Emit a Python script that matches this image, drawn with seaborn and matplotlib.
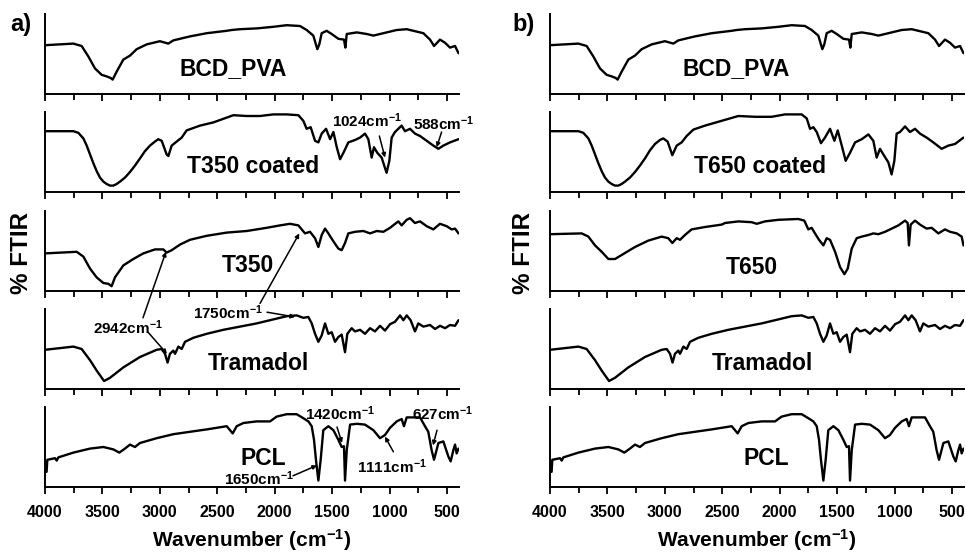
import numpy as np
import pandas as pd
import seaborn as sns
import matplotlib.pyplot as plt
from matplotlib.ticker import MultipleLocator

# ---- spectra (wavenumber in cm-1, transmittance in panel units 0-100)
bcd_wn = [4000, 3753, 3681, 3623, 3565, 3507, 3463, 3428, 3411, 3376, 3318, 3260, 3202, 3115, 3000, 2926, 2883,
          2738, 2592, 2418, 2374, 2302, 2157, 2012, 1896, 1780, 1722, 1664, 1629, 1612, 1591, 1548, 1504, 1446,
          1397, 1385, 1373, 1286, 1199, 1141, 1083, 996, 938, 851, 793, 706, 648, 613, 561, 517, 474, 430, 400]
bcd_t = [61, 63, 60, 47, 32, 24, 22, 20, 18, 28, 43, 48, 56, 62, 66, 63, 67, 72, 76, 79, 80, 81, 82, 84, 86, 85,
         80, 73, 56, 62, 76, 79, 75, 69, 68, 58, 75, 77, 75, 73, 75, 78, 80, 81, 79, 76, 68, 60, 68, 64, 58, 60, 51]

t350c_wn = [4000, 3753, 3710, 3666, 3637, 3608, 3579, 3550, 3521, 3492, 3463, 3434, 3405, 3376, 3347, 3304, 3260,
            3217, 3173, 3130, 3086, 3043, 3014, 2984, 2941, 2926, 2897,
            2854, 2810, 2767, 2650, 2534, 2418, 2360, 2244, 2128, 2012, 1896, 1794, 1751, 1722, 1687, 1649, 1620,
            1591, 1553, 1518, 1489, 1460, 1431, 1402, 1359, 1301, 1257, 1214, 1185, 1156, 1136, 1107, 1069, 1040,
            1026, 1002, 982, 953, 924, 895, 866, 822, 779, 735, 677, 619, 575, 532, 474, 400]
t350c_t = [76, 76, 74, 67, 58, 47, 36, 26, 18, 13, 10, 8, 8, 10, 13, 18, 25,
           33, 42, 51, 58, 63, 66, 64, 47, 45, 58, 63, 68, 77, 83, 87, 93, 96, 95, 95, 97,
           97, 96, 89, 79, 81, 64, 62, 73, 79, 66, 75, 56, 41, 49, 62, 65, 68, 73, 66, 43, 56, 49, 43, 30, 24, 39,
           68, 75, 79, 83, 76, 79, 73, 70, 64, 58, 54, 58, 62, 66]

t350_wn = [4000, 3724, 3666, 3608, 3550, 3492, 3449, 3420, 3391, 3318, 3231, 3144, 3042, 2970, 2941, 2897, 2825,
           2738, 2592, 2418, 2244, 2070, 1954, 1867, 1794, 1736, 1693, 1649, 1620, 1591, 1562, 1533, 1489, 1446,
           1417, 1388, 1359, 1301, 1228, 1170, 1112, 1054, 996, 924, 895, 851, 822, 779, 735, 677, 619, 561, 503,
           459, 430, 400]
t350_t = [47, 49, 43, 28, 17, 10, 9, 6, 17, 32, 40, 47, 52, 52, 48, 51, 58, 64, 69, 73, 75, 79, 82, 84, 82, 72, 74,
          66, 55, 70, 78, 72, 62, 53, 51, 60, 72, 74, 75, 72, 75, 74, 79, 87, 82, 89, 91, 85, 87, 81, 77, 84, 81,
          77, 78, 72]

tram_wn = [4000, 3753, 3681, 3608, 3550, 3486, 3434, 3318, 3173, 3028, 2984, 2955, 2933, 2912, 2883, 2868, 2839,
           2810, 2781, 2709, 2592, 2447, 2302, 2157, 2012, 1896, 1809, 1751, 1707, 1678, 1649, 1620, 1591, 1562,
           1533, 1504, 1475, 1446, 1417, 1388, 1368, 1330, 1301, 1257, 1214, 1170, 1127, 1083, 1040, 996, 953, 909,
           880, 851, 817, 779, 750, 706, 648, 604, 561, 517, 474, 430, 400]
tram_t = [49, 53, 50, 36, 23, 10, 14, 27, 40, 49, 50, 44, 33, 44, 48, 44, 53, 50, 59, 64, 69, 74, 78, 82, 87, 91,
          92, 89, 90, 82, 69, 59, 67, 82, 69, 71, 59, 65, 68, 46, 69, 76, 72, 74, 69, 76, 72, 79, 73, 81, 84, 92,
          86, 92, 86, 72, 82, 78, 80, 75, 79, 76, 80, 79, 86]

pcl_wn = [4000, 3986, 3980, 3913, 3898, 3884, 3753, 3608, 3492, 3405, 3353, 3304, 3260, 3217, 3173, 3028, 2883,
          2738, 2592, 2418, 2389, 2366, 2331, 2273, 2157, 2041, 1983, 1896, 1809, 1751, 1707, 1678, 1658, 1641,
          1620, 1600, 1577, 1533, 1489, 1446, 1417, 1397, 1388, 1373, 1344, 1286, 1214, 1141, 1083, 1040, 996, 938,
          895, 875, 851, 793, 735, 692, 663, 634, 613, 575, 532, 488, 468, 445, 430, 416, 400]
pcl_t = [19, 19, 34, 36, 33, 37, 43, 48, 50, 47, 43, 48, 53, 50, 55, 61, 66, 69, 72, 76, 71, 67, 76, 80, 82, 82, 88,
         91, 91, 86, 82, 76, 59, 34, 8, 34, 71, 76, 71, 59, 50, 51, 8, 46, 78, 79, 78, 71, 61, 65, 74, 82, 85, 76,
         87, 87, 87, 76, 69, 46, 34, 55, 57, 38, 32, 46, 53, 42, 48]

t650c_wn = [4000, 3753, 3710, 3666, 3637, 3608, 3579, 3550, 3521, 3492, 3463, 3434, 3405, 3376, 3347, 3304, 3260,
            3217, 3173, 3130, 3086, 3043, 3014, 2976, 2935, 2897, 2854,
            2810, 2752, 2650, 2505, 2360, 2215, 2070, 1954, 1809, 1765, 1736, 1707, 1678, 1641, 1606, 1562, 1524,
            1495, 1460, 1426, 1388, 1344, 1286, 1228, 1185, 1156, 1127, 1098, 1054, 1026, 1002, 982, 953, 909, 866,
            822, 779, 721, 663, 590, 532, 474, 400]
t650c_t = [76, 76, 74, 67, 58, 47, 36, 26, 18, 13, 10, 8, 8, 10, 13, 18, 25,
           33, 42, 52, 60, 65, 67, 63, 46, 58, 62, 70, 78, 83, 89, 95, 94, 94, 97, 97, 92,
           79, 81, 75, 61, 68, 79, 64, 77, 58, 39, 49, 62, 66, 72, 64, 43, 54, 47, 37, 22, 39, 73, 75, 82, 75, 79,
           73, 68, 62, 54, 58, 60, 68]

t650_wn = [4000, 3724, 3666, 3608, 3550, 3492, 3434, 3376, 3260, 3144, 3028, 2970, 2935, 2897, 2868, 2825, 2767,
           2650, 2505, 2476, 2360, 2244, 2200, 2128, 2012, 1838, 1786, 1751, 1722, 1693, 1658, 1620, 1591, 1562,
           1518, 1475, 1437, 1408, 1373, 1330, 1286, 1228, 1185, 1141, 1083, 1025, 967, 909, 886, 875, 860, 822,
           779, 721, 677, 619, 561, 517, 459, 416, 400]
t650_t = [71, 72, 68, 57, 49, 40, 40, 45, 55, 63, 68, 66, 60, 66, 64, 70, 77, 80, 83, 85, 87, 86, 84, 87, 89, 90, 88,
          77, 79, 72, 64, 57, 66, 64, 49, 30, 21, 28, 53, 66, 68, 70, 72, 71, 74, 78, 82, 88, 85, 57, 83, 88, 83,
          78, 79, 72, 77, 74, 72, 68, 57]

names_a = ['BCD_PVA', 'T350 coated', 'T350', 'Tramadol', 'PCL']
names_b = ['BCD_PVA', 'T650 coated', 'T650', 'Tramadol', 'PCL']

sns.set_style('ticks')
plt.rcParams['font.family'] = ['Liberation Sans', 'DejaVu Sans']
plt.rcParams['font.weight'] = 'bold'
plt.rcParams['text.color'] = 'black'
plt.rcParams['axes.edgecolor'] = 'black'
plt.rcParams['xtick.color'] = 'black'
plt.rcParams['mathtext.fontset'] = 'custom'
plt.rcParams['mathtext.rm'] = 'Liberation Sans:bold'
plt.rcParams['mathtext.it'] = 'Liberation Sans:bold'
plt.rcParams['mathtext.bf'] = 'Liberation Sans:bold'
plt.rcParams['mathtext.default'] = 'rm'

spec_a = [(bcd_wn, bcd_t), (t350c_wn, t350c_t), (t350_wn, t350_t), (tram_wn, tram_t), (pcl_wn, pcl_t)]
spec_b = [(bcd_wn, bcd_t), (t650c_wn, t650c_t), (t650_wn, t650_t), (tram_wn, tram_t), (pcl_wn, pcl_t)]

# label position (wavenumber, y) for each sample name
lab_a = [(2363, 32), (2189, 32), (2233, 32), (2146, 32), (2102, 36)]
lab_b = [(2375, 32), (2175, 32), (2245, 30), (2150, 32), (2115, 36)]

W, H = 966, 555
fig = plt.figure(figsize=(W / 100, H / 100), dpi=100)
tops = [14, 112, 211, 309, 407]
ph = 80
lefts = [45, 550]
pw = 413.5

axes = []
for c, (specs, names, labs) in enumerate([(spec_a, names_a, lab_a), (spec_b, names_b, lab_b)]):
    col = []
    for r in range(5):
        ax = fig.add_axes([lefts[c] / W, 1 - (tops[r] + ph) / H, pw / W, ph / H])
        ax.patch.set_alpha(0)
        wn, t = specs[r]
        df = pd.DataFrame({'wn': wn, 't': t})
        sns.lineplot(data=df, x='wn', y='t', ax=ax, color='black', lw=1.7, sort=False, estimator=None)
        ax.set_xlim(4000, 400)
        ax.set_ylim(0, 100)
        ax.set_yticks([])
        ax.set_xlabel('')
        ax.set_ylabel('')
        ax.xaxis.set_major_locator(MultipleLocator(500))
        ax.xaxis.set_minor_locator(MultipleLocator(250))
        ax.tick_params(axis='x', which='major', length=5, width=1.3, direction='out', pad=8,
                       labelsize=11.5, labelbottom=(r == 4), colors='black')
        ax.tick_params(axis='x', which='minor', length=4, width=1.3, direction='out', colors='black')
        sns.despine(ax=ax)
        for s in ['left', 'bottom']:
            ax.spines[s].set_linewidth(1.4)
            ax.spines[s].set_color('black')
        ax.text(labs[r][0], labs[r][1], names[r], ha='center', va='center', fontsize=16.5, fontweight='bold')
        col.append(ax)
    axes.append(col)

ax1, ax2, ax3, ax4, ax5 = axes[0]
arrow = dict(arrowstyle='-|>', color='black', lw=1.1, mutation_scale=6, shrinkA=0, shrinkB=0)
afs = 11


def note(ax, xy, xytext, xyax=None):
    ax.annotate('', xy=xy, xycoords=(xyax or ax).transData, xytext=xytext, textcoords=ax.transData,
                arrowprops=arrow, annotation_clip=False)


# T350 coated
ax2.text(1200, 89, '1024cm$^{-1}$', ha='center', va='center', fontsize=afs)
note(ax2, (1040, 43), (1089, 70))
ax2.text(526, 85, '588cm$^{-1}$', ha='center', va='center', fontsize=afs)
note(ax2, (590, 56), (547, 75))

# T350 / Tramadol
ax4.text(3277, 77, '2942cm$^{-1}$', ha='center', va='center', fontsize=afs)
note(ax4, (2947, 49), (3147, 89), ax3)
note(ax4, (2938, 44), (3103, 71))
ax4.text(2407, 96, '1750cm$^{-1}$', ha='center', va='center', fontsize=afs)
note(ax4, (1823, 90), (2067, 96))
note(ax4, (1786, 72), (2128, 107), ax3)

# PCL
ax5.text(1432, 92, '1420cm$^{-1}$', ha='center', va='center', fontsize=afs)
note(ax5, (1414, 55), (1458, 75))
ax5.text(535, 92, '627cm$^{-1}$', ha='center', va='center', fontsize=afs)
note(ax5, (622, 52), (587, 71))
ax5.text(979, 25, '1111cm$^{-1}$', ha='center', va='center', fontsize=afs)
note(ax5, (1040, 63), (967, 44))
ax5.text(2137, 10, '1650cm$^{-1}$', ha='center', va='center', fontsize=afs)
note(ax5, (1632, 27), (1841, 14))

# figure-level labels
fig.text(10 / W, 1 - 24 / H, 'a)', ha='left', va='center', fontsize=17, fontweight='bold')
fig.text(512 / W, 1 - 24 / H, 'b)', ha='left', va='center', fontsize=17, fontweight='bold')
for xc in [22, 524]:
    fig.text(xc / W, 1 - 253 / H, '% FTIR', rotation=90, ha='center', va='center', fontsize=17.5,
             fontweight='bold')
for xc in [252, 757]:
    fig.text(xc / W, 1 - 540 / H, 'Wavenumber (cm$^{-1}$)', ha='center', va='center', fontsize=15,
             fontweight='bold')

fig.savefig('out.png', dpi=100)
